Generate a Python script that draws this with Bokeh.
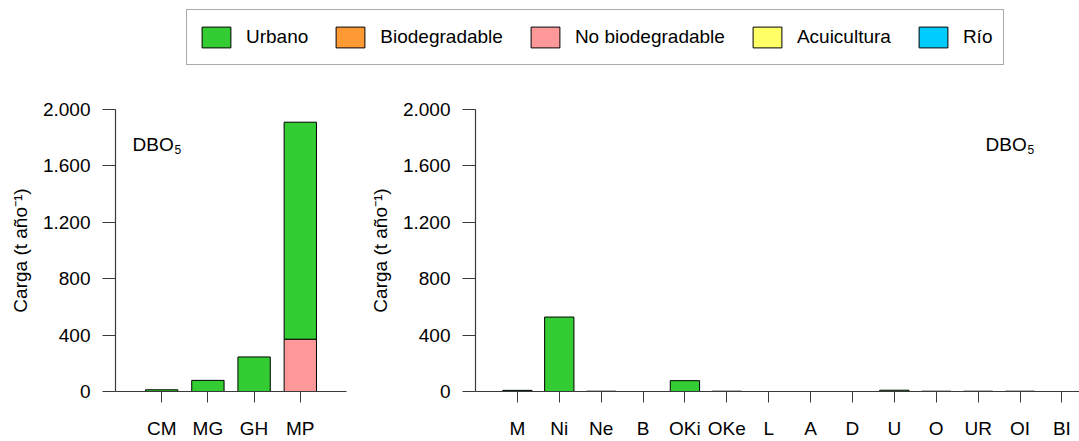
from bokeh.plotting import figure
from bokeh.models import (Range1d, FixedTicker, ColumnDataSource, Label, Legend, LegendItem)
from bokeh.layouts import column, row
from bokeh.embed import file_html
from bokeh.resources import INLINE

# ---------------- data ----------------
series_names = ["Urbano", "Biodegradable", "No biodegradable", "Acuicultura", "Río"]
series_colors = ["#33CC33", "#FF9933", "#FF9999", "#FFFF66", "#00CCFF"]

cats_left = ["CM", "MG", "GH", "MP"]
urbano_left = [12, 79, 245, 1539]
biodeg_left = [0, 0, 0, 0]
nobio_left = [0, 0, 0, 371]
acui_left = [0, 0, 0, 0]
rio_left = [0, 0, 0, 0]

cats_right = ["M", "Ni", "Ne", "B", "OKi", "OKe", "L", "A", "D", "U", "O", "UR", "OI", "BI"]
urbano_right = [8, 528, 2, 0, 77, 2, 0, 0, 0, 9, 2, 2, 2, 0]
biodeg_right = [0] * 14
nobio_right = [0] * 14
acui_right = [0] * 14
rio_right = [0] * 14

y_ticks = [0, 400, 800, 1200, 1600, 2000]
y_tick_labels = ["0", "400", "800", "1.200", "1.600", "2.000"]

FONT = "Liberation Sans"
FS = "19px"
AX = "#3a3a3a"


def stacked_source(cats, urb, bio, nob, acu, rio):
    # stacking order bottom -> top
    order = [(nob, series_colors[2]), (urb, series_colors[0]), (bio, series_colors[1]),
             (acu, series_colors[3]), (rio, series_colors[4])]
    xs, bots, tops, cols = [], [], [], []
    for i in range(len(cats)):
        base = 0
        for vals, c in order:
            v = vals[i]
            if v > 0:
                xs.append(i)
                bots.append(base)
                tops.append(base + v)
                cols.append(c)
                base += v
    return ColumnDataSource(dict(x=xs, bottom=bots, top=tops, color=cols))


def make_panel(cats, src, width, x_end, mbl, mbr, dbo_x):
    p = figure(width=width, height=361, x_range=Range1d(-1, x_end),
               y_range=Range1d(0, 2000), min_border_left=mbl, min_border_right=mbr,
               min_border_top=29, min_border_bottom=47, toolbar_location=None,
               output_backend="svg")
    p.vbar(x="x", bottom="bottom", top="top", width=0.7, source=src,
           fill_color="color", line_color="black", line_width=1)
    p.grid.visible = False
    p.outline_line_color = None
    p.background_fill_color = "white"
    p.border_fill_color = "white"

    xa = p.xaxis[0]
    xa.ticker = FixedTicker(ticks=list(range(len(cats))))
    xa.major_label_overrides = {i: c for i, c in enumerate(cats)}
    xa.minor_tick_line_color = None
    xa.major_tick_in = 0
    xa.major_tick_out = 11
    xa.major_label_standoff = 15

    ya = p.yaxis[0]
    ya.ticker = FixedTicker(ticks=y_ticks)
    ya.major_label_overrides = {t: l for t, l in zip(y_ticks, y_tick_labels)}
    ya.minor_tick_line_color = None
    ya.major_tick_in = 0
    ya.major_tick_out = 13
    ya.major_label_standoff = 12
    ya.axis_label = "Carga (t año⁻¹)"
    ya.axis_label_standoff = 9

    for a in (xa, ya):
        a.axis_line_color = AX
        a.major_tick_line_color = AX
        a.axis_line_width = 1.2
        a.major_label_text_font = FONT
        a.major_label_text_font_size = FS
        a.major_label_text_color = "black"
        a.axis_label_text_font = FONT
        a.axis_label_text_font_size = FS
        a.axis_label_text_font_style = "normal"
        a.axis_label_text_color = "black"

    p.add_layout(Label(x=dbo_x, y=247, x_units="screen", y_units="screen", text="DBO",
                       text_font=FONT, text_font_size=FS, text_color="black",
                       text_baseline="alphabetic"))
    p.add_layout(Label(x=dbo_x + 42, y=242, x_units="screen", y_units="screen", text="5",
                       text_font=FONT, text_font_size="12px", text_color="black",
                       text_baseline="alphabetic"))
    return p


src_left = stacked_source(cats_left, urbano_left, biodeg_left, nobio_left, acui_left, rio_left)
src_right = stacked_source(cats_right, urbano_right, biodeg_right, nobio_right, acui_right, rio_right)

left = make_panel(cats_left, src_left, 366, 4, 115, 20, 17)
right = make_panel(cats_right, src_right, 713, 13.42, 106, 0, 510)

# ---------------- legend strip ----------------
leg = figure(width=1079, height=80, x_range=Range1d(0, 1), y_range=Range1d(0, 1),
             min_border=0, toolbar_location=None, output_backend="svg",
             x_axis_type=None, y_axis_type=None)
leg.grid.visible = False
leg.outline_line_color = None
items = []
for name, c in zip(series_names, series_colors):
    # legend-only renderer: its single bar lies outside the visible range
    r = leg.vbar(x=[10], top=[1], bottom=[0], width=0.5, fill_color=c,
                 line_color="black", line_width=1)
    items.append(LegendItem(label=name, renderers=[r]))
legend = Legend(items=items, orientation="horizontal", location=(186, 15),
                padding=11, spacing=24, label_standoff=12,
                glyph_width=36, glyph_height=26, label_height=32,
                label_text_font=FONT, label_text_font_size=FS, label_text_color="black",
                border_line_color="#555555", border_line_width=1,
                background_fill_color="white", margin=0)
leg.add_layout(legend, "center")

layout = column(leg, row(left, right, spacing=0), spacing=0)

open("out.html", "w").write(file_html(layout, INLINE))
